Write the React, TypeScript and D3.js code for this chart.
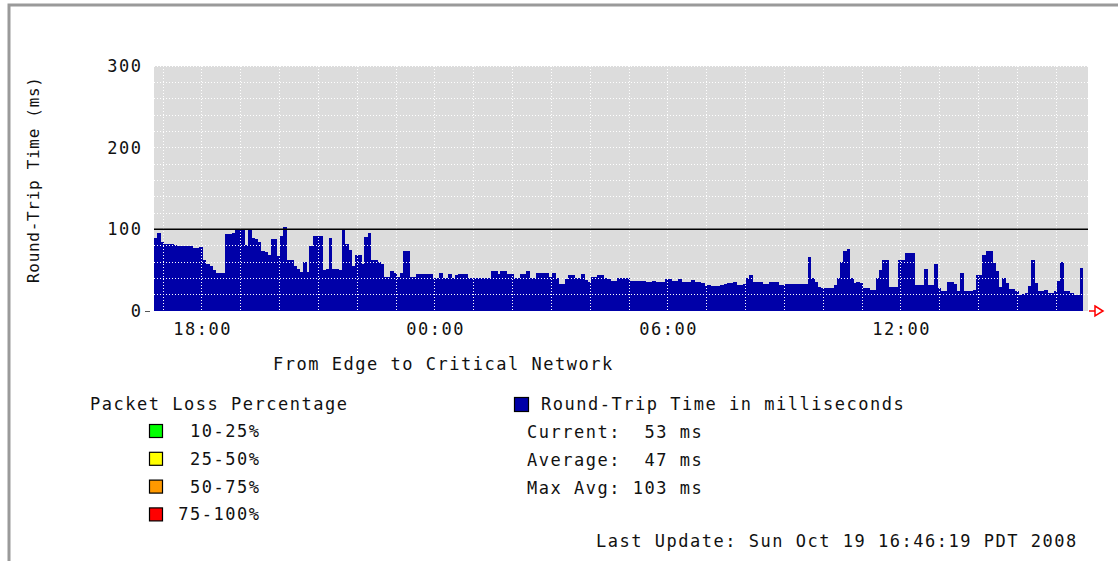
import * as d3 from 'd3';

// 5-minute round-trip samples (ms), Oct 18 16:46 -> Oct 19 16:46
const START = Date.UTC(2008, 9, 18, 16, 46);
const END = START + 24 * 60 * 60 * 1000;
const STEP_MS = 5 * 60 * 1000;

const rttValues = [
  90, 96, 85, 82, 82, 82, 81, 80, 80, 79, 79, 79, 77, 77, 78, 62, 58, 55, 50, 47,
  47, 47, 94, 94, 96, 100, 100, 100, 81, 100, 90, 88, 85, 74, 72, 69, 88, 88, 67, 92,
  103, 62, 62, 55, 52, 48, 60, 48, 80, 92, 92, 92, 50, 52, 90, 51, 51, 50, 100, 82,
  75, 55, 69, 69, 58, 91, 95, 62, 62, 60, 58, 42, 42, 49, 46, 42, 47, 73, 73, 42,
  42, 45, 45, 45, 45, 45, 40, 40, 47, 40, 40, 45, 40, 44, 45, 45, 45, 40, 40, 40,
  40, 40, 40, 40, 49, 49, 45, 49, 49, 45, 45, 40, 40, 45, 45, 49,
  40, 40, 47, 47, 47, 47, 42, 47, 40, 33, 33, 39, 44, 44, 40, 40, 45, 38, 36, 42,
  42, 44, 44, 41, 39, 37, 37, 41, 40, 40, 40, 37, 37, 37, 37, 37, 35, 35, 37, 35,
  35, 35, 39, 39, 37, 37, 39, 35, 35, 35, 38, 36, 36, 34, 31, 32, 31, 31, 31,
  32, 33, 34, 34, 35, 32, 32, 33, 40, 44, 35, 35, 35, 33, 33, 35, 35, 35, 32, 32,
  33, 33, 33, 33, 33, 33, 33, 66, 41, 36, 30, 28, 28, 28, 28, 32, 41, 60, 74, 76,
  40, 34, 36, 34, 28, 28, 26, 26, 41, 50, 63, 63, 30, 30, 30, 62, 62, 71, 71,
  71, 32, 32, 32, 51, 32, 32, 58, 28, 25, 25, 35, 35, 33, 25, 47, 25, 24, 24, 26,
  44, 44, 69, 73, 73, 59, 49, 30, 40, 34, 27, 27, 24, 20, 21, 22, 31, 62, 34, 24,
  24, 26, 22, 22, 24, 37, 60, 24, 24, 22, 20, 20, 53,
];

const yTicks = [0, 100, 200, 300];
const threshold = 100;
const lossLabels = ['10-25%', '25-50%', '50-75%', '75-100%'];
const lossColors = ['#00ff00', '#ffff00', '#ff9900', '#ff0000'];
const statLines = ['Current:  53 ms', 'Average:  47 ms', 'Max Avg: 103 ms'];
const xTitle = 'From Edge to Critical Network';
const yTitle = 'Round-Trip Time (ms)';
const seriesLabel = 'Round-Trip Time in milliseconds';
const lossTitle = 'Packet Loss Percentage';
const lastUpdate = 'Last Update: Sun Oct 19 16:46:19 PDT 2008';

const FONT = '"DejaVu Sans Mono", monospace';
const ADV = 11.75;
const BAR = '#0000a8';

const Txt = ({ x, y, s, anchor = 'start', size = 17 }: any) => (
  <text
    x={x}
    y={y}
    dy="0.35em"
    textAnchor={anchor}
    fontFamily={FONT}
    fontSize={size}
    textLength={s.length * ADV - 1.5}
    lengthAdjust="spacing"
    style={{ whiteSpace: 'pre' }}
    fill="#111"
  >
    {s}
  </text>
);

export default function App() {
  const plot = { left: 154, right: 1088, top: 66, bottom: 311 };

  const x = d3.scaleUtc().domain([START, END]).range([154, 1086]);
  const y = d3.scaleLinear().domain([0, 300]).range([plot.bottom, plot.top]);

  const hours = x.ticks(d3.utcHour.every(1) as any);
  const labelHours = hours.filter(d => d.getUTCHours() % 6 === 0);
  const fmt = d3.utcFormat('%H:%M');
  const gridY = d3.range(0, 301, 20);

  return (
    <svg
      width={1118}
      height={561}
      style={{ position: 'absolute', left: 0, top: 0, background: '#fff' }}
    >
      <rect x={9} y={5} width={1300} height={700} fill="none" stroke="#9a9a9a" strokeWidth={3} />

      {/* plot background */}
      <rect
        x={plot.left}
        y={plot.top}
        width={plot.right - plot.left}
        height={plot.bottom - plot.top}
        fill="#dcdcdc"
      />

      {/* bars */}
      <g shapeRendering="crispEdges">
        {rttValues.map((v, i) => {
          const t0 = START + i * STEP_MS;
          const x0 = x(t0);
          const x1 = x(t0 + STEP_MS);
          return (
            <rect
              key={i}
              x={x0}
              y={y(v)}
              width={x1 - x0 + 0.5}
              height={y(0) - y(v)}
              fill={BAR}
            />
          );
        })}
      </g>

      {/* dotted grid */}
      <g stroke="#fff" strokeWidth={1} strokeDasharray="1,2" shapeRendering="crispEdges">
        {gridY.map(v => (
          <line key={'h' + v} x1={plot.left} x2={plot.right} y1={y(v)} y2={y(v)} />
        ))}
        {hours.map(d => (
          <line key={'v' + +d} x1={x(d)} x2={x(d)} y1={plot.top} y2={plot.bottom} />
        ))}
      </g>

      {/* threshold line */}
      <line
        x1={plot.left}
        x2={plot.right}
        y1={y(threshold)}
        y2={y(threshold)}
        stroke="#000"
        strokeWidth={1.5}
      />

      {/* y axis */}
      {yTicks.map(v => (
        <Txt key={v} x={141} y={y(v)} s={String(v)} anchor="end" />
      ))}
      <line x1={145} x2={150} y1={y(0) + 0.5} y2={y(0) + 0.5} stroke="#555" />
      <text
        transform={`translate(33,${180}) rotate(-90)`}
        textAnchor="middle"
        dy="0.35em"
        fontFamily={FONT}
        fontSize={16}
        textLength={206}
        lengthAdjust="spacing"
        fill="#111"
      >
        {yTitle}
      </text>

      {/* x axis */}
      {labelHours.map(d => (
        <Txt key={+d} x={x(d)} y={329} s={fmt(d)} anchor="middle" />
      ))}
      <path
        d={`M1089,${plot.bottom}H1095M1095,${plot.bottom - 5}L1103,${plot.bottom}L1095,${plot.bottom + 5}Z`}
        fill="none"
        stroke="#ff0000"
        strokeWidth={1.5}
      />
      <Txt x={273} y={364} s={xTitle} />

      {/* packet loss legend */}
      <Txt x={90} y={404} s={lossTitle} />
      {lossLabels.map((l, i) => (
        <g key={l}>
          <rect
            x={149.5}
            y={424.5 + i * 27.8}
            width={13}
            height={13}
            fill={lossColors[i]}
            stroke="#000"
            strokeWidth={1.2}
          />
          <Txt x={259} y={431 + i * 27.8} s={l} anchor="end" />
        </g>
      ))}

      {/* series legend */}
      <rect x={514.5} y={397.5} width={14} height={14} fill={BAR} stroke="#000" strokeWidth={1.2} />
      <Txt x={541} y={404} s={seriesLabel} />
      {statLines.map((s, i) => (
        <Txt key={s} x={527} y={432 + i * 27.8} s={s} />
      ))}

      <Txt x={596} y={541} s={lastUpdate} />
    </svg>
  );
}
